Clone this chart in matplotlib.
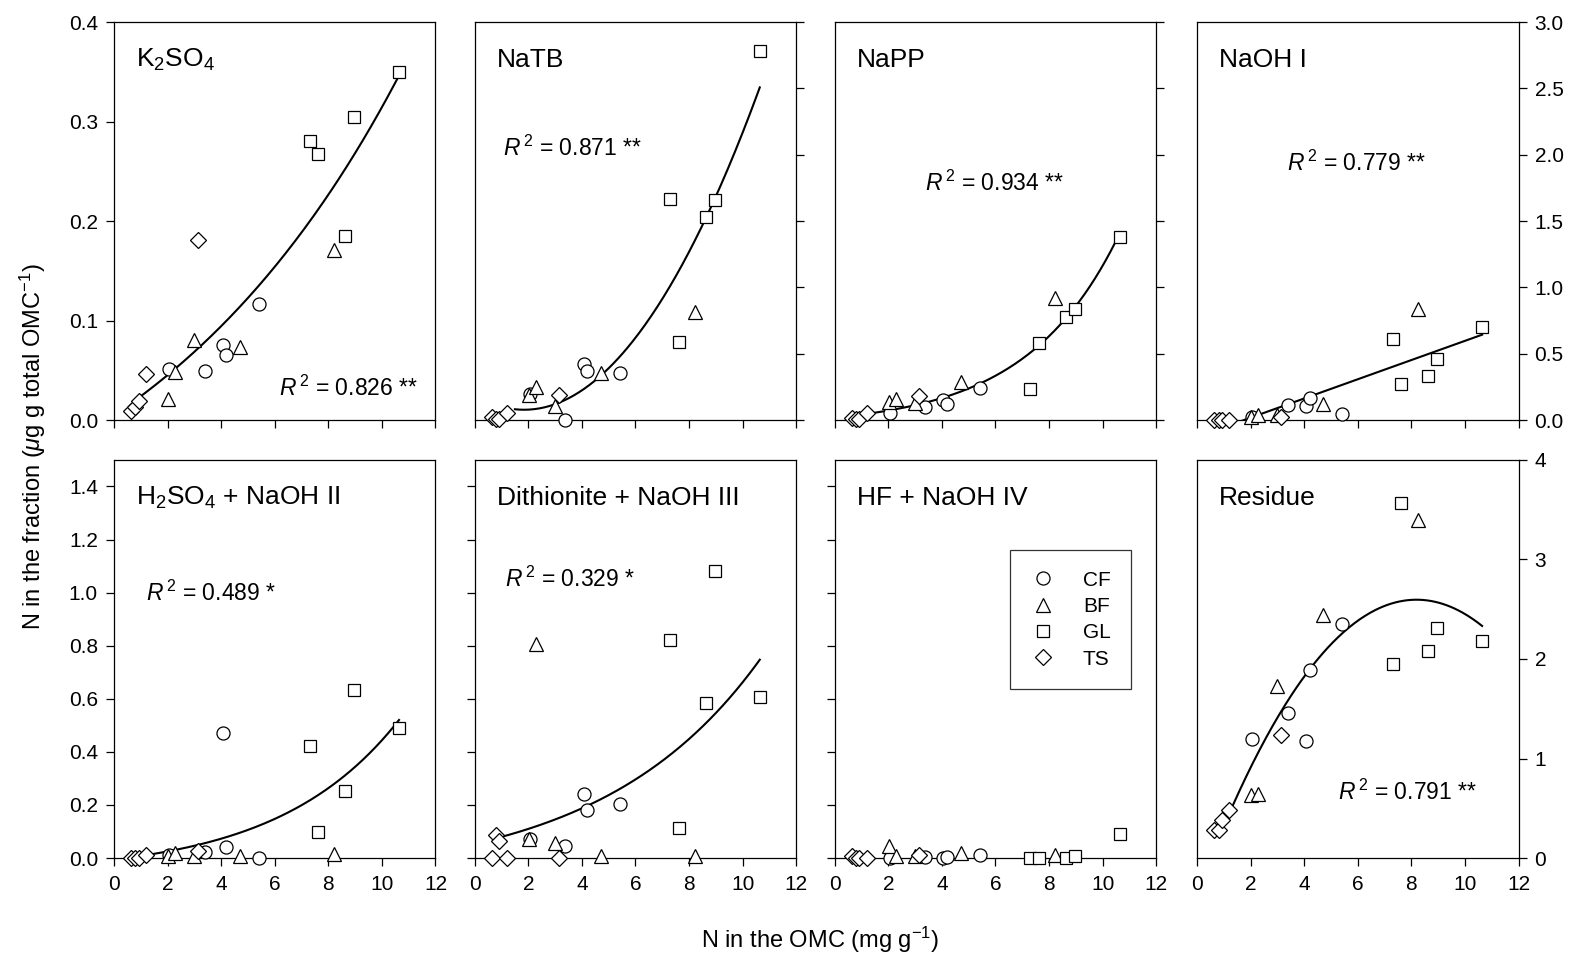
import numpy as np
import matplotlib
matplotlib.use("Agg")
import matplotlib.pyplot as plt
from matplotlib.ticker import MultipleLocator, FormatStrFormatter

plt.rcParams['font.family'] = ['Liberation Sans', 'DejaVu Sans']
plt.rcParams['mathtext.fontset'] = 'custom'
plt.rcParams['mathtext.rm'] = 'Liberation Sans'
plt.rcParams['mathtext.it'] = 'Liberation Sans:italic'

# N in the OMC (mg g-1) for the soils of each land use
x_cf = [2.05, 3.38, 4.06, 4.20, 5.42]
x_bf = [2.02, 2.27, 2.98, 4.70, 8.23]
x_gl = [7.30, 7.62, 8.63, 8.96, 10.64]
x_ts = [0.65, 0.80, 0.92, 1.21, 3.13]

# N in each fraction, same order as the x lists
k2so4_cf = [0.051, 0.049, 0.075, 0.065, 0.117]
k2so4_bf = [0.021, 0.048, 0.081, 0.073, 0.171]
k2so4_gl = [0.280, 0.267, 0.185, 0.305, 0.350]
k2so4_ts = [0.009, 0.013, 0.019, 0.046, 0.181]

natb_cf = [0.20, 0.00, 0.42, 0.37, 0.357]
natb_bf = [0.19, 0.25, 0.11, 0.357, 0.817]
natb_gl = [1.67, 0.586, 1.53, 1.66, 2.78]
natb_ts = [0.02, 0.005, 0.01, 0.05, 0.19]

napp_cf = [0.05, 0.096, 0.15, 0.118, 0.244]
napp_bf = [0.138, 0.156, 0.126, 0.29, 0.923]
napp_gl = [0.231, 0.578, 0.78, 0.837, 1.383]
napp_ts = [0.018, 0.01, 0.005, 0.05, 0.18]

naoh1_cf = [0.025, 0.113, 0.11, 0.168, 0.048]
naoh1_bf = [0.02, 0.04, 0.04, 0.123, 0.841]
naoh1_gl = [0.613, 0.269, 0.336, 0.464, 0.70]
naoh1_ts = [0.0, 0.0, 0.0, 0.0, 0.02]

h2so4_cf = [0.013, 0.023, 0.471, 0.041, 0.0]
h2so4_bf = [0.006, 0.019, 0.006, 0.006, 0.015]
h2so4_gl = [0.423, 0.098, 0.254, 0.632, 0.49]
h2so4_ts = [0.0, 0.0, 0.0, 0.013, 0.025]

dith_cf = [0.072, 0.044, 0.242, 0.18, 0.203]
dith_bf = [0.07, 0.807, 0.057, 0.006, 0.006]
dith_gl = [0.822, 0.113, 0.584, 1.08, 0.606]
dith_ts = [0.0, 0.088, 0.065, 0.0, 0.0]

hf_cf = [0.0, 0.003, 0.0, 0.003, 0.013]
hf_bf = [0.046, 0.009, 0.009, 0.019, 0.013]
hf_gl = [0.0, 0.0, 0.0, 0.007, 0.09]
hf_ts = [0.006, 0.0, 0.0, 0.0, 0.013]

res_cf = [1.2, 1.458, 1.174, 1.888, 2.347]
res_bf = [0.63, 0.644, 1.727, 2.44, 3.393]
res_gl = [1.95, 3.564, 2.085, 2.307, 2.18]
res_ts = [0.278, 0.285, 0.386, 0.486, 1.24]

titles = [r"K$_2$SO$_4$", "NaTB", "NaPP", "NaOH I",
          r"H$_2$SO$_4$ + NaOH II", "Dithionite + NaOH III", "HF + NaOH IV", "Residue"]
r2_text = ["0.826 **", "0.871 **", "0.934 **", "0.779 **", "0.489 *", "0.329 *", None, "0.791 **"]
# regression model of each panel: exponential growth, linear or quadratic
fit_kind = ["exp", "quad", "exp", "lin", "exp", "exp", None, "quad"]
fit_start = [0.75, 1.5, 1.0, 0.95, 1.4, 0.85, None, 0.85]

panels = [
    (k2so4_cf, k2so4_bf, k2so4_gl, k2so4_ts),
    (natb_cf, natb_bf, natb_gl, natb_ts),
    (napp_cf, napp_bf, napp_gl, napp_ts),
    (naoh1_cf, naoh1_bf, naoh1_gl, naoh1_ts),
    (h2so4_cf, h2so4_bf, h2so4_gl, h2so4_ts),
    (dith_cf, dith_bf, dith_gl, dith_ts),
    (hf_cf, hf_bf, hf_gl, hf_ts),
    (res_cf, res_bf, res_gl, res_ts),
]

groups = ["CF", "BF", "GL", "TS"]
xs = [x_cf, x_bf, x_gl, x_ts]
markers = [("o", 9.4), ("^", 10), ("s", 8.6), ("D", 7.8)]

# position of the R2 label in axes coords
r2_pos = [(0.945, 0.08, "right"), (0.087, 0.683, "left"), (0.28, 0.595, "left"),
          (0.28, 0.646, "left"), (0.10, 0.666, "left"), (0.093, 0.70, "left"),
          None, (0.437, 0.166, "left")]


def fit_curve(x, y, kind, xf):
    if kind == "lin":
        return np.polyval(np.polyfit(x, y, 1), xf)
    if kind == "quad":
        return np.polyval(np.polyfit(x, y, 2), xf)
    # y = y0 + a*exp(b*x), least squares over b
    best = None
    for b in np.linspace(0.01, 1.0, 400):
        A = np.column_stack([np.ones_like(x), np.exp(b * x)])
        c, *_ = np.linalg.lstsq(A, y, rcond=None)
        sse = np.sum((A @ c - y) ** 2)
        if best is None or sse < best[0]:
            best = (sse, b, c)
    _, b, c = best
    return c[0] + c[1] * np.exp(b * xf)


fig = plt.figure(figsize=(15.72, 9.57), dpi=100)
lefts = [0.0725, 0.302, 0.531, 0.7615]
w, h = 0.2045, 0.416
bottoms = [0.561, 0.1034]

for i in range(8):
    row, col = divmod(i, 4)
    ax = fig.add_axes([lefts[col], bottoms[row], w, h])
    handles = []
    for g, xv, yv, (m, ms) in zip(groups, xs, panels[i], markers):
        hnd, = ax.plot(xv, yv, linestyle="none", marker=m, markersize=ms,
                       markerfacecolor="white", markeredgecolor="black",
                       markeredgewidth=0.9, label=g, zorder=3, clip_on=False)
        handles.append(hnd)

    if fit_kind[i] is not None:
        allx = np.concatenate([np.array(v) for v in xs])
        ally = np.concatenate([np.array(v) for v in panels[i]])
        xf = np.linspace(fit_start[i], allx.max(), 200)
        ax.plot(xf, fit_curve(allx, ally, fit_kind[i], xf), color="black", lw=1.5, zorder=2)

    ax.set_xlim(0, 12)
    ax.xaxis.set_major_locator(MultipleLocator(2))
    ax.tick_params(direction="out", length=5.5, width=0.9, labelsize=15)
    ax.tick_params(axis="y", pad=6)
    ax.tick_params(axis="x", pad=7)
    for s in ax.spines.values():
        s.set_linewidth(0.9)

    if row == 0:
        ax.tick_params(axis="x", labelbottom=False)
    if i == 0:
        ax.set_ylim(0, 0.4)
        ax.yaxis.set_major_locator(MultipleLocator(0.1))
        ax.yaxis.set_major_formatter(FormatStrFormatter("%.1f"))
    elif i in (1, 2, 3):
        ax.set_ylim(0, 3.0)
        ax.yaxis.set_major_locator(MultipleLocator(0.5))
        ax.yaxis.set_major_formatter(FormatStrFormatter("%.1f"))
        ax.tick_params(axis="y", left=False, labelleft=False, right=True, labelright=(i == 3))
    elif i in (4, 5, 6):
        ax.set_ylim(0, 1.5)
        ax.set_yticks(np.arange(0, 1.41, 0.2))
        ax.yaxis.set_major_formatter(FormatStrFormatter("%.1f"))
        if i != 4:
            ax.tick_params(axis="y", labelleft=False)
    else:
        ax.set_ylim(0, 4)
        ax.yaxis.set_major_locator(MultipleLocator(1))
        ax.tick_params(axis="y", left=False, labelleft=False, right=True, labelright=True)

    ax.text(0.068, 0.905, titles[i], transform=ax.transAxes, fontsize=19,
            ha="left", va="center")
    if r2_pos[i] is not None:
        px, py, ha = r2_pos[i]
        ax.text(px, py, r"$R^{\,2}$ = " + r2_text[i], transform=ax.transAxes,
                fontsize=16.5, ha=ha, va="center")

    if i == 6:
        leg = ax.legend(handles=handles, loc="upper left", bbox_to_anchor=(0.545, 0.774),
                        fontsize=15, frameon=True, fancybox=False, edgecolor="black",
                        borderpad=1.0, labelspacing=0.35, handlelength=1.2,
                        handletextpad=1.3, borderaxespad=0)
        leg.get_frame().set_linewidth(0.9)

fig.text(0.021, 0.533, r"N in the fraction ($\mu$g g total OMC$^{-1}$)", rotation=90,
         ha="center", va="center", fontsize=17)
fig.text(0.522, 0.018, r"N in the OMC (mg g$^{-1}$)", ha="center", va="center", fontsize=17)

fig.savefig("out.png", dpi=100)
